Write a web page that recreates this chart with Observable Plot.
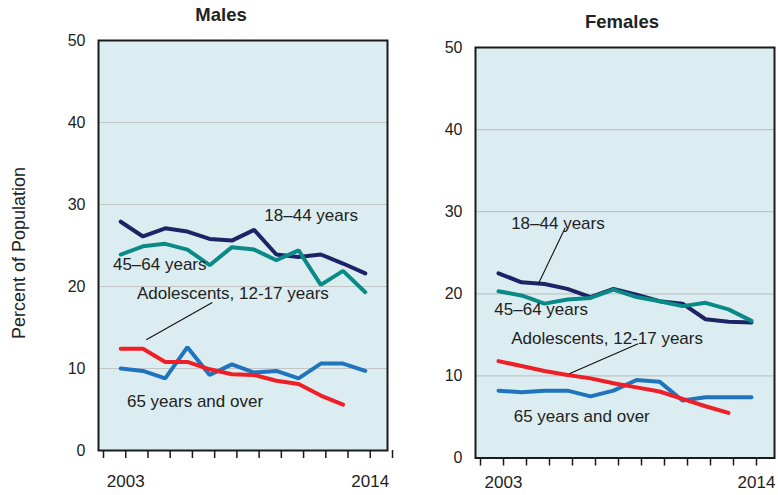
<!DOCTYPE html>
<html>
<head>
<meta charset="utf-8">
<script src="https://cdn.jsdelivr.net/npm/d3@7"></script>
<script src="https://cdn.jsdelivr.net/npm/@observablehq/plot@0.6"></script>
<style>
  html, body { margin: 0; padding: 0; background: #fff; }
  #wrap { position: relative; width: 778px; height: 495px; font-family: "Liberation Sans", Arial, sans-serif; color: #222; }
  .panel { position: absolute; top: 0; }
  .title { position: absolute; font-weight: bold; font-size: 18.5px; transform: translate(-50%, -50%); white-space: nowrap; }
  .ylab { position: absolute; font-size: 18px; white-space: nowrap; transform: translate(-50%, -50%) rotate(-90deg); }
</style>
</head>
<body>
<div id="wrap"></div>
<script>
// ---- Data ----
const years = [2003, 2004, 2005, 2006, 2007, 2008, 2009, 2010, 2011, 2012, 2013, 2014];
const yTicks = [0, 10, 20, 30, 40, 50];
const xTickYears = [2002, 2003, 2004, 2005, 2006, 2007, 2008, 2009, 2010, 2011, 2012, 2013, 2014, 2015];
const xLabelYears = [2003, 2014];

const male18_44 = [27.9, 26.1, 27.1, 26.7, 25.8, 25.6, 26.9, 23.9, 23.6, 23.9, 22.8, 21.6];
const male45_64 = [23.9, 24.9, 25.2, 24.5, 22.6, 24.8, 24.5, 23.2, 24.4, 20.2, 21.9, 19.3];
const maleAdol  = [12.4, 12.4, 10.8, 10.8, 9.9, 9.3, 9.2, 8.5, 8.1, 6.7, 5.6];
const male65    = [10.0, 9.7, 8.8, 12.6, 9.2, 10.5, 9.5, 9.7, 8.8, 10.6, 10.6, 9.7];

const female18_44 = [22.5, 21.4, 21.2, 20.6, 19.6, 20.6, 19.9, 19.1, 18.8, 16.9, 16.6, 16.5];
const female45_64 = [20.3, 19.8, 18.8, 19.3, 19.5, 20.5, 19.6, 19.1, 18.5, 18.9, 18.1, 16.7];
const femaleAdol  = [11.8, 11.2, 10.6, 10.1, 9.7, 9.1, 8.6, 8.1, 7.2, 6.3, 5.5];
const female65    = [8.2, 8.0, 8.2, 8.2, 7.5, 8.2, 9.5, 9.3, 7.0, 7.4, 7.4, 7.4];

const seriesColors = { "18–44": "#1c2466", "45–64": "#0a8a86", "adol": "#ee1f26", "65+": "#1f74bd" };

// label anchors in data coordinates (year, percent)
const maleLabels = [
  { x: 2009.46, y: 28.7, text: "18–44 years" },
  { x: 2002.65, y: 22.7, text: "45–64 years" },
  { x: 2003.73, y: 19.2, text: "Adolescents, 12-17 years" },
  { x: 2003.28, y: 6.0,  text: "65 years and over" }
];
const maleLeaders = [
  { x1: 2004.15, y1: 13.5, x2: 2007.12, y2: 18.05 }
];
const femaleLabels = [
  { x: 2003.55, y: 28.55, text: "18–44 years" },
  { x: 2002.82, y: 18.1,  text: "45–64 years" },
  { x: 2003.55, y: 14.6,  text: "Adolescents, 12-17 years" },
  { x: 2003.66, y: 5.05,  text: "65 years and over" }
];
const femaleLeaders = [
  { x1: 2004.74, y1: 21.25, x2: 2005.9, y2: 28.05 },
  { x1: 2006.08, y1: 10.27, x2: 2009.07, y2: 13.93 }
];

// ---- Drawing ----
const font = '"Liberation Sans", Arial, sans-serif';
const bg = "#dcedf1";

function panel({ width, marginLeft, marginRight, marginTop, marginBottom, series, labels, leaders, tickPadding }) {
  const marks = [
    Plot.frame({ fill: bg }),
    Plot.gridY([10, 20, 30, 40], { stroke: "#c2c4c6", strokeOpacity: 1, strokeWidth: 1.2 })
  ];
  for (const s of series) {
    marks.push(Plot.lineY(s.values, {
      x: years.slice(0, s.values.length),
      y: d => d,
      stroke: s.color,
      strokeWidth: 4,
      strokeLinejoin: "miter",
      curve: "linear"
    }));
  }
  marks.push(
    Plot.link(leaders, { x1: "x1", y1: "y1", x2: "x2", y2: "y2", stroke: "#111", strokeWidth: 1.1 }),
    Plot.text(labels, { x: "x", y: "y", text: "text", textAnchor: "start", lineAnchor: "middle", fontSize: 17, fill: "#222" }),
    Plot.frame({ stroke: "#1a1a1a", strokeWidth: 2 }),
    Plot.axisY(yTicks, { tickSize: 0, tickPadding: 13, label: null, fontSize: 16, fill: "#222" }),
    Plot.axisX(xTickYears, {
      tickSize: 8, tickPadding, label: null, fontSize: 17, fill: "#222", stroke: "#1a1a1a", strokeWidth: 1.5,
      tickFormat: d => xLabelYears.includes(d) ? String(d) : "", dx: 5
    })
  );
  return Plot.plot({
    width, height: 495, marginLeft, marginRight, marginTop, marginBottom,
    x: { domain: [2002, 2015] },
    y: { domain: [0, 50] },
    style: { fontFamily: font, background: "transparent", overflow: "visible" },
    marks
  });
}

const wrap = document.getElementById("wrap");

const males = panel({
  width: 400, marginLeft: 98, marginRight: 13, marginTop: 40, marginBottom: 45,
  tickPadding: 16,
  series: [
    { values: male18_44, color: seriesColors["18–44"] },
    { values: male45_64, color: seriesColors["45–64"] },
    { values: male65, color: seriesColors["65+"] },
    { values: maleAdol, color: seriesColors["adol"] }
  ],
  labels: maleLabels, leaders: maleLeaders
});
males.classList.add("panel");
males.style.left = "0px";
wrap.appendChild(males);

const females = panel({
  width: 378, marginLeft: 75, marginRight: 4, marginTop: 47, marginBottom: 37.5,
  tickPadding: 10,
  series: [
    { values: female18_44, color: seriesColors["18–44"] },
    { values: female45_64, color: seriesColors["45–64"] },
    { values: female65, color: seriesColors["65+"] },
    { values: femaleAdol, color: seriesColors["adol"] }
  ],
  labels: femaleLabels, leaders: femaleLeaders
});
females.classList.add("panel");
females.style.left = "400px";
wrap.appendChild(females);

function addDiv(cls, text, x, y) {
  const d = document.createElement("div");
  d.className = cls;
  d.textContent = text;
  d.style.left = x + "px";
  d.style.top = y + "px";
  wrap.appendChild(d);
}
addDiv("title", "Males", 221, 15);
addDiv("title", "Females", 622, 22);
addDiv("ylab", "Percent of Population", 18.5, 253);
</script>
</body>
</html>
